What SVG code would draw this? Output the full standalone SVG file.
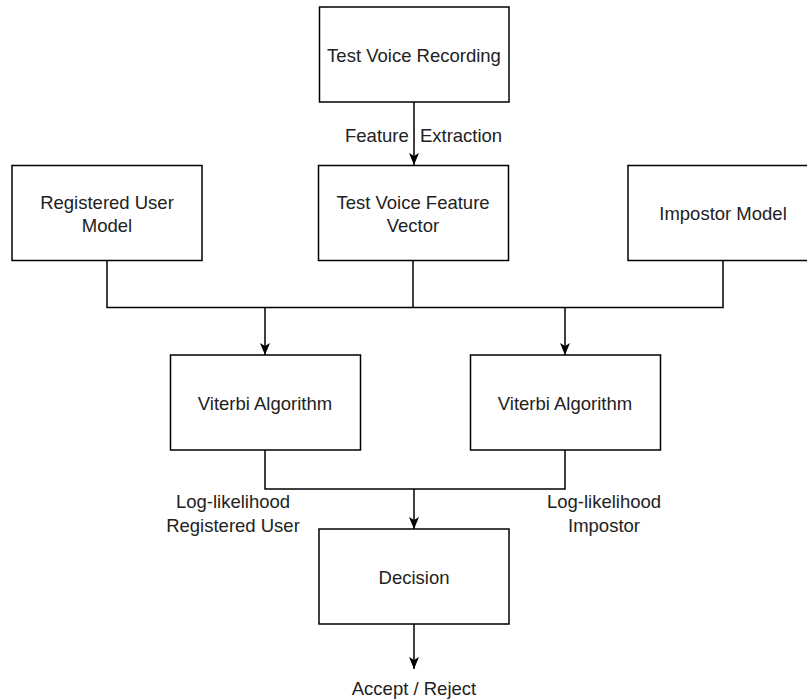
<svg xmlns="http://www.w3.org/2000/svg" width="807" height="700" viewBox="0 0 807 700">
<defs>
<style>
.box{fill:#fff;stroke:#000;stroke-width:1.5}
.t{font-family:"Liberation Sans",Arial,sans-serif;font-size:18.5px;fill:#222;text-anchor:middle}
.c{fill:none;stroke:#000;stroke-width:1.5}
.a{marker-end:url(#arr)}
</style>
<marker id="arr" markerUnits="userSpaceOnUse" markerWidth="12" markerHeight="12" viewBox="0 0 12 12" refX="12" refY="6" orient="auto">
<path d="M0,1 L12,6 L0,11 L3,6 z" fill="#000"/>
</marker>
</defs>
<rect width="807" height="700" fill="#fff"/>
<g id="connectors">
<path class="c a" d="M414,102 V165"/>
<path class="c" d="M107,260 V307.5 H723 V260"/>
<path class="c" d="M413,260 V307.5"/>
<path class="c a" d="M265,307.5 V355"/>
<path class="c a" d="M565,307.5 V355"/>
<path class="c" d="M265,450 V489 H565 V450"/>
<path class="c a" d="M414,489 V529"/>
<path class="c a" d="M414,624 V669"/>
<text class="t" x="345" y="141.5" style="text-anchor:start;word-spacing:6px">Feature Extraction</text>
<text class="t" x="233" y="508">Log-likelihood</text>
<text class="t" x="233" y="531.5">Registered User</text>
<text class="t" x="604" y="508">Log-likelihood</text>
<text class="t" x="604" y="531.5">Impostor</text>
<text class="t" x="414" y="694.5">Accept / Reject</text>
</g>
<g id="test-voice-recording">
<rect class="box" x="319.5" y="7" width="189.5" height="95"/>
<text class="t" x="414" y="61.5">Test Voice Recording</text>
</g>
<g id="registered-user-model">
<rect class="box" x="12" y="165.5" width="190" height="95"/>
<text class="t" x="107" y="208.5">Registered User</text>
<text class="t" x="107" y="231.5">Model</text>
</g>
<g id="test-voice-feature-vector">
<rect class="box" x="318.5" y="165.5" width="190" height="95"/>
<text class="t" x="413" y="208.5">Test Voice Feature</text>
<text class="t" x="413" y="231.5">Vector</text>
</g>
<g id="impostor-model">
<rect class="box" x="628" y="165.5" width="190" height="95"/>
<text class="t" x="723" y="219.5">Impostor Model</text>
</g>
<g id="viterbi-user">
<rect class="box" x="170.5" y="355" width="190" height="95"/>
<text class="t" x="265" y="409.5">Viterbi Algorithm</text>
</g>
<g id="viterbi-impostor">
<rect class="box" x="470.5" y="355" width="190" height="95"/>
<text class="t" x="565" y="409.5">Viterbi Algorithm</text>
</g>
<g id="decision">
<rect class="box" x="319" y="529" width="190" height="95"/>
<text class="t" x="414" y="583.5">Decision</text>
</g>
</svg>
